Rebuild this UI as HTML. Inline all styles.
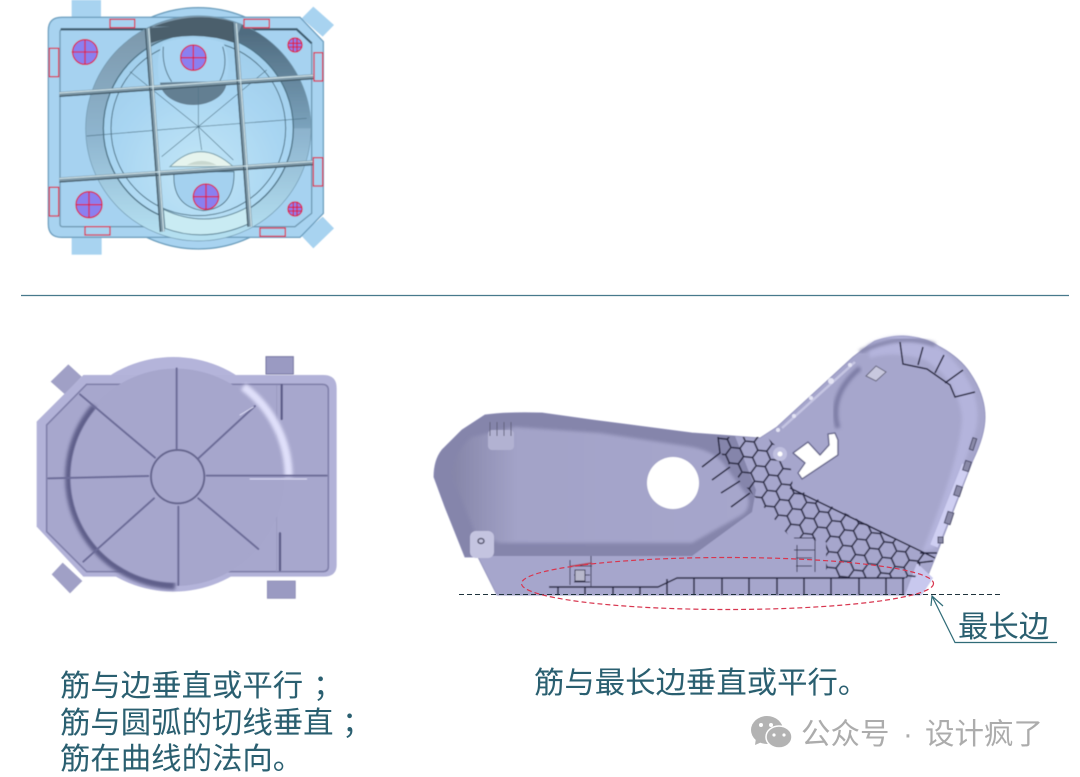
<!DOCTYPE html>
<html lang="zh"><head><meta charset="utf-8"><style>
html,body{margin:0;padding:0;background:#fff;width:1080px;height:777px;overflow:hidden}
svg{display:block}
text{font-family:"Liberation Sans","WenQuanYi Zen Hei","Noto Sans CJK SC",sans-serif}
.t{font-size:30.400px;fill:#2a5f70}
</style></head><body>
<svg width="1080" height="777" viewBox="0 0 1080 777" xmlns="http://www.w3.org/2000/svg">
<defs>
<filter id="s" x="-5%" y="-5%" width="110%" height="110%"><feGaussianBlur stdDeviation=".5"/></filter>
<filter id="b1" x="-10%" y="-10%" width="120%" height="120%"><feGaussianBlur stdDeviation="1.500"/></filter>
<filter id="b3" x="-20%" y="-20%" width="140%" height="140%"><feGaussianBlur stdDeviation="5"/></filter>
<filter id="b5" x="-30%" y="-30%" width="160%" height="160%"><feGaussianBlur stdDeviation="8"/></filter>
<radialGradient id="tc" cx="50%" cy="75%" r="70%"><stop offset="0" stop-color="#c2e6f6"/><stop offset=".7" stop-color="#a8d5f2"/><stop offset="1" stop-color="#a2cfec"/></radialGradient>
<linearGradient id="lob" x1="0" x2="1" y1="0" y2="0"><stop offset="0" stop-color="#8585a8"/><stop offset=".22" stop-color="#a3a3c8"/><stop offset="1" stop-color="#a6a6cc"/></linearGradient>
<linearGradient id="ring" x1="0" x2="0" y1="0" y2="1"><stop offset="0" stop-color="#7c97aa"/><stop offset=".55" stop-color="#8fb6d0"/><stop offset="1" stop-color="#b4dff0"/></linearGradient>
<linearGradient id="ringR" x1="0" x2="0" y1="0" y2="1"><stop offset="0" stop-color="#506c80"/><stop offset="1" stop-color="#7ba3bd"/></linearGradient>
<pattern id="hex" width="15.600" height="27" patternUnits="userSpaceOnUse" patternTransform="rotate(-24 780 500)">
<path d="M7.800,0 L15.600,4.500 L15.600,13.500 L7.800,18 L0,13.500 L0,4.500 Z M7.800,18 V27" fill="none" stroke="#23233c" stroke-width="1.500"/>
</pattern>
<clipPath id="hc"><polygon points="718,437 767,437 790,460 793,487 925,553 915,578 826,578 826,542 790,537 740,480 722,455"/></clipPath>
</defs>

<!-- Top part -->
<g filter="url(#s)">
<g transform="translate(30,0) scale(.33333)">
<rect x="125" y="0" width="88" height="56" fill="#a8d3f0"/>
<rect x="125" y="708" width="90" height="56" fill="#a8d3f0"/>
<polygon points="850,20 912,75 878,110 815,55" fill="#a8d3f0"/>
<polygon points="878,650 912,685 850,745 812,705" fill="#a8d3f0"/>
<circle cx="505" cy="385" r="362" fill="#a8d3f0" stroke="#6b9dbc" stroke-width="4"/>
<path d="M95,52H810L880,125V640L810,712H95Q55,712 55,672V92Q55,52 95,52Z" fill="#a8d3f0" stroke="#6d9fbf" stroke-width="4"/>
<path d="M98,88H800L845,130V640L795,680H98Q90,680 90,672V96Q90,88 98,88Z" fill="#a6d2f0" stroke="#6f9ab4" stroke-width="4"/>
<path d="M92,88H355M620,88H800L845,130" fill="none" stroke="#3f5f72" stroke-width="7"/>
<circle cx="505" cy="385" r="337" fill="#b4dcf2" stroke="#6f97ae" stroke-width="4"/>
<circle cx="505" cy="385" r="310" fill="none" stroke="url(#ring)" stroke-width="54"/>
<path d="M625,99A310,310 0 0 1 815,385" fill="none" stroke="url(#ringR)" stroke-width="54"/>
<circle cx="505" cy="385" r="285" fill="url(#tc)" stroke="#4f7488" stroke-width="4"/>
<circle cx="505" cy="385" r="262" fill="url(#tc)" stroke="#4f7488" stroke-width="3"/>
<path d="M360,84L610,66L618,130Q490,85 358,130Z" fill="#4b5f6c"/>
<path d="M360,84Q490,30 610,66L610,80H360Z" fill="#4b5f6c"/>
<path d="M390,245A100,70 0 0 0 590,245Z" fill="#647f92"/>
<path d="M388,248Q375,170 400,128Q490,100 580,128Q605,180 590,242Z" fill="#a9d5f2"/>
<path d="M400,140Q395,200 425,245M578,140Q595,195 570,242" fill="none" stroke="#56788c" stroke-width="3"/>
<path d="M420,500Q510,410 610,500Z" fill="#e6f4ee" stroke="#7ea2ae" stroke-width="3"/>
<path d="M470,495Q515,470 560,495Z" fill="#c9d8d0"/>
<path d="M432,515Q425,620 520,632Q615,625 612,515Z" fill="#a4d1ef" stroke="#3f6578" stroke-width="2.500"/>
<path d="M400,628Q530,690 655,620L655,672Q525,730 405,685Z" fill="#c9ebf3" stroke="#5f8598" stroke-width="3"/>
<g stroke="#4f7488" stroke-width="2" fill="none">
<path d="M505,380L300,215M505,380L710,210M505,380V255M505,380L515,450M505,380L395,470M505,380L610,480M170,408L505,380L830,355"/>
</g>
<g fill="none" stroke-linecap="butt">
<g stroke="#7f9aa9" stroke-width="15"><path d="M88,283L850,230M88,540L850,488M352,85L397,695M615,70L660,680"/></g>
<g stroke="#3f5868" stroke-width="4"><path d="M88,289L850,236M88,546L850,494M346,85L391,695M609,70L654,680"/></g>
<g stroke="#d2e6ec" stroke-width="3"><path d="M88,279L850,226M88,536L850,484M356,85L401,695M619,70L664,680"/></g>
</g>
<g stroke="#d8224a" stroke-width="4" fill="#8a80f0">
<g><circle cx="165" cy="156" r="37"/><path d="M125,156H205M165,118V195" fill="none"/></g>
<g><circle cx="490" cy="173" r="38"/><path d="M450,173H530M490,135V212" fill="none"/></g>
<g><circle cx="795" cy="135" r="21"/><path d="M773,130H817M773,141H817M790,113V157M801,113V157" fill="none"/></g>
<g><circle cx="177" cy="614" r="39"/><path d="M137,614H217M177,575V654" fill="none"/></g>
<g><circle cx="528" cy="590" r="38"/><path d="M488,590H568M528,551V629" fill="none"/></g>
<g><circle cx="795" cy="627" r="21"/><path d="M773,622H817M773,633H817M790,605V649M801,605V649" fill="none"/></g>
</g>
<g fill="#a8d3f0" stroke="#d8304f" stroke-width="4">
<rect x="240" y="58" width="74" height="25"/><rect x="642" y="58" width="76" height="25"/>
<rect x="58" y="145" width="28" height="85"/><rect x="852" y="158" width="26" height="85"/>
<rect x="850" y="473" width="28" height="85"/><rect x="58" y="562" width="28" height="86"/>
<rect x="165" y="680" width="75" height="25"/><rect x="690" y="684" width="76" height="25"/>
</g>
</g>
</g>

<line x1="21" y1="295.500" x2="1069" y2="295.500" stroke="#47798c" stroke-width="1.300"/>

<!-- Left part -->
<g filter="url(#s)">
<g transform="translate(20,345) scale(.33333)">
<rect x="738" y="35" width="82" height="52" fill="#9a9ac2" stroke="#7474a0" stroke-width="3"/>
<rect x="742" y="708" width="84" height="52" fill="#9a9ac2" stroke="#8484ae" stroke-width="2"/>
<polygon points="145,58 185,95 135,148 92,110" fill="#a0a0c6"/>
<polygon points="128,653 187,708 150,745 95,688" fill="#a0a0c6"/>
<circle cx="460" cy="388" r="352" fill="#b4b4da"/>
<path d="M190,90H910Q950,90 950,130V660Q950,695 910,695H190L50,545V230Z" fill="#b2b2d8"/>
<path d="M200,118H905Q925,118 925,135V665Q925,680 908,680H200L80,560V240Z" fill="#a7a7cd" stroke="#8080aa" stroke-width="5"/>
<path d="M770,120V680" stroke="#9a9ac0" stroke-width="3"/>
<circle cx="467" cy="397" r="326" fill="#a6a6cc"/>
<path d="M225,185A326,326 0 0 0 465,722" fill="none" stroke="#5f5f8a" stroke-width="24" filter="url(#b3)"/>
<path d="M670,125A340,340 0 0 1 806,395" fill="none" stroke="#e0e0fa" stroke-width="24" filter="url(#b3)"/>
<circle cx="467" cy="397" r="316" fill="#a6a6cc" filter="url(#b1)"/>
<g fill="none" stroke-linecap="round">
<g stroke="#6c6c98" stroke-width="6">
<path d="M470,70V310M475,485V720M85,400L385,393M560,392H920M180,148L405,338M535,340L705,183M402,460L190,650M535,460L715,612"/>
</g>
<path d="M785,120V222M780,565V675" stroke="#5d5d88" stroke-width="7"/>
<g stroke="#dcdcf4" stroke-width="3"><path d="M660,210L700,186M690,402H860"/></g>
<circle cx="473" cy="395" r="80" stroke="#66668f" stroke-width="6"/>
</g>
</g>
</g>

<!-- Right part -->
<g filter="url(#s)">
<path d="M497,595L478,557L465,557L445,507L434,477Q434,460 442,450L462,430L485,415Q505,412 542,413L592,420L692,433L760,438L777,427L853,357Q873,342 875,341Q890,336 903,336Q925,337 940,347Q960,358 970,373Q985,395 985,417Q985,435 973,460L937,553L920,595Z" fill="#a6a6cc" stroke="#9898c0" stroke-width="1"/>
<!-- dark lobe -->
<path d="M465,557L445,507L434,477Q434,460 442,450L462,430L485,415Q505,412 542,413L592,420L692,433L735,436L756,490L752,512L692,556L490,556Z" fill="#8585ab"/>
<path d="M476,535L452,475Q455,450 472,437L515,427L600,433L692,447Q718,452 728,470L748,497Q751,510 740,516L692,543H500Z" fill="url(#lob)" filter="url(#b1)"/>
<path d="M868,345Q905,325 945,352Q985,390 976,430L935,548L922,552Q960,460 962,418Q958,380 925,360Q895,350 870,358Z" fill="#b4b4dc" filter="url(#b1)"/>
<path d="M860,352Q900,332 935,345" fill="none" stroke="#8484aa" stroke-width="4" filter="url(#b1)"/>
<path d="M917,563L933,578L922,595L905,595Z" fill="#c8c8ee"/>
<path d="M934,546L966,465" stroke="#cfcff2" stroke-width="8"/>
<path d="M782,428L855,362" stroke="#c4c4e2" stroke-width="2.500"/>
<path d="M838,428Q828,395 860,368" fill="none" stroke="#7c7ca4" stroke-width="5" filter="url(#b1)"/>
<circle cx="673" cy="483" r="26" fill="#fff"/>
<path d="M793,453L808,442L820,455L829,445L828,434L835,433L838,440L838,455L802,479L798,473L805,463Z" fill="#fff" stroke="#6a6a90" stroke-width="1.500" stroke-linejoin="round"/>
<rect x="470" y="531" width="24" height="27" rx="6" fill="#c4c4e0"/>
<ellipse cx="481" cy="541" rx="3" ry="2.500" fill="none" stroke="#55556e" stroke-width="1.500"/>
<rect x="488" y="430" width="26" height="20" rx="4" fill="#b2b2d2"/>
<path d="M490,436V422M497,436V422M504,436V422M511,436V422" stroke="#62627e" stroke-width="1"/>
<g clip-path="url(#hc)"><rect x="700" y="425" width="240" height="165" fill="url(#hex)"/></g>
<g fill="none" stroke="#23233c" stroke-width="1.500">
<path d="M790,488L935,558M920,553L937,553M917,563L933,561"/>
<path d="M549,587H658L677,578H905"/>
<path d="M558,587V595M585,587V595M613,587V595M640,587V595M667,579V595M694,578V595M722,578V595M749,578V595M777,578V595M804,578V595M831,578V595M859,578V595M886,578V595M903,578V595"/>
<path d="M702,467L720,453L718,437M712,480L730,467M721,493L740,481M731,507L750,493"/>
<path d="M900,342L903,364L927,369L950,385L955,397L975,392M923,347L918,365M944,355L935,373M963,370L945,383"/>
</g>
<g stroke="#33334e" stroke-width="1" fill="none">
<path d="M570,560V585M591,556V586M570,566H592M574,575H590M574,582H590"/>
<rect x="575" y="570" width="10" height="11" fill="#b8b8cc"/>
<path d="M794,538H815V572M797,545V572M794,550H815M796,558H812M796,566H812"/>
</g>
<path d="M570,566.500L592,563" stroke="#b03040" stroke-width="1.500"/>
<g stroke="#4a4a68" stroke-width="1" fill="#8a8aa8">
<rect x="971" y="438" width="4" height="12" transform="rotate(18 973 444)"/><rect x="964" y="461" width="6" height="10" transform="rotate(18 967 466)"/><rect x="955" y="486" width="6" height="10" transform="rotate(18 958 491)"/><rect x="946" y="512" width="6" height="12" transform="rotate(18 949 518)"/><rect x="938" y="537" width="5" height="6"/>
</g>
<path d="M866,376L876,366L886,372L876,381Z" fill="#c8c8de" stroke="#66667e"/>
<circle cx="780" cy="454" r="7" fill="#c0c0e0"/><circle cx="780" cy="454" r="2.500" fill="#fff"/>
<g fill="#e4e4f4"><circle cx="778" cy="430" r="2"/><circle cx="794" cy="416" r="2"/><circle cx="811" cy="398" r="2"/><circle cx="831" cy="381" r="3"/><circle cx="850" cy="365" r="2"/></g>
</g>

<line x1="459" y1="594.500" x2="1000" y2="594.500" stroke="#1f333c" stroke-width="1.100" stroke-dasharray="5 3"/>
<ellipse cx="727.500" cy="583.500" rx="206" ry="26" fill="none" stroke="#d8364f" stroke-width="1.200" stroke-dasharray="5 3"/>

<g fill="none" stroke="#2f6b77" stroke-width="1.200">
<path d="M932,596L955,642.500H1057"/>
<path d="M931,606L932,596L943,606"/>
</g>
<text class="t" x="958" y="637">最长边</text>

<text class="t" x="60" y="696">筋与边垂直或平行<tspan x="313">；</tspan></text>
<text class="t" x="60" y="733">筋与圆弧的切线垂直<tspan x="342">；</tspan></text>
<text class="t" x="60" y="769">筋在曲线的法向。</text>
<text class="t" x="534" y="693">筋与最长边垂直或平行。</text>

<!-- watermark -->
<ellipse cx="767" cy="730" rx="16" ry="14" fill="#b3b3b3"/>
<path d="M756,738L755,745L764,741Z" fill="#b3b3b3"/>
<ellipse cx="779" cy="737" rx="13" ry="11" fill="#b3b3b3" stroke="#fff" stroke-width="1.500"/>
<g fill="#fff"><circle cx="761" cy="725" r="2"/><circle cx="771" cy="725" r="2"/><circle cx="774" cy="735" r="1.600"/><circle cx="784" cy="735" r="1.600"/></g>
<text x="801" y="744" font-size="29.500" fill="#acacac">公众号</text>
<text x="903" y="744" font-size="29.500" fill="#acacac">·</text>
<text x="925" y="744" font-size="29.500" fill="#acacac">设计疯了</text>
</svg>
</body></html>
